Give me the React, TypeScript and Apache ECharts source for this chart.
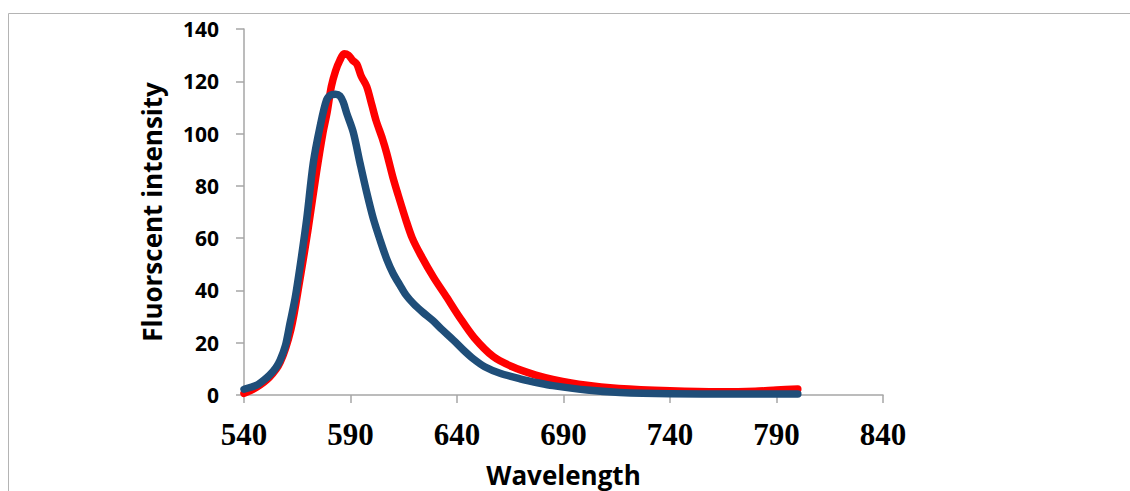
import React, { useEffect, useRef } from "react";
import * as echarts from "echarts";

const xTicks = [540, 590, 640, 690, 740, 790, 840];
const yTicks = [0, 20, 40, 60, 80, 100, 120, 140];

const redWave = [540, 546, 552, 557, 562, 566, 570, 574, 577, 579, 581, 583, 585, 587, 589, 591, 593, 595, 597.6, 600, 602, 605, 607, 610, 612, 616, 619, 623, 629, 635, 641, 648, 657, 666, 677, 685, 700, 716, 740, 763, 780, 790, 800];
const redVals = [0.6, 3.0, 6.8, 12.5, 25, 43, 63, 85, 100, 108, 118, 124, 128, 130.5, 130, 128, 126.5, 122, 118, 111, 105, 98, 92.5, 83, 77.5, 67, 60, 53.5, 45, 37.6, 30, 22, 14.7, 10.8, 7.6, 6.0, 3.8, 2.5, 1.6, 1.2, 1.4, 1.9, 2.3];

const blueWave = [540, 546, 549, 552, 555, 557, 559.5, 561.6, 564, 566.3, 569.4, 572.5, 575.7, 578.8, 581, 583, 585, 586.6, 588.2, 591.3, 594.5, 597.6, 600.7, 604, 607, 610, 613.2, 616, 619.5, 624, 628.9, 633, 638.3, 643, 647.7, 653, 660.2, 669.6, 679, 685, 701, 716.5, 740, 770, 800];
const blueVals = [2.2, 3.8, 5.5, 7.6, 10.5, 13.4, 19, 27.4, 37, 49, 67, 88.6, 102.6, 112.9, 114.8, 115, 114.4, 112, 107.8, 100.5, 88.6, 77.5, 67.5, 59, 52, 46.5, 42, 38.3, 35, 31.6, 28.3, 25, 21, 17.2, 13.8, 10.8, 8.3, 6.2, 4.5, 3.6, 1.9, 1.0, 0.5, 0.4, 0.4];

const pairs = (xs: number[], ys: number[]) => xs.map((x, i) => [x, ys[i]]);

export default function App() {
  const ref = useRef<HTMLDivElement>(null);
  useEffect(() => {
    if (!ref.current) return;
    const chart = echarts.init(ref.current, undefined, { renderer: "svg" });
    const axisColor = "#a6a6a6";
    chart.setOption({
      animation: false,
      backgroundColor: "#ffffff",
      graphic: [
        {
          type: "rect",
          shape: { x: 8.5, y: 13.5, width: 1200, height: 600 },
          style: { fill: "none", stroke: "#b4b4b4", lineWidth: 1 },
          silent: true,
        },
      ],
      grid: { left: 244, top: 29, right: 247, bottom: 96, containLabel: false, outerBoundsMode: "none" },
      xAxis: {
        type: "value",
        min: 540,
        max: 840,
        name: "Wavelength",
        nameLocation: "middle",
        nameGap: 67,
        nameTextStyle: { fontFamily: "Open Sans", fontWeight: "bold", fontSize: 26, color: "#000" },
        axisLine: { lineStyle: { color: axisColor, width: 1.5 } },
        axisTick: { show: true, length: 8, customValues: xTicks, lineStyle: { color: axisColor, width: 1.5 } },
        axisLabel: {
          customValues: xTicks,
          margin: 24,
          fontFamily: "Liberation Serif",
          fontWeight: "bold",
          fontSize: 31,
          color: "#000",
        },
        splitLine: { show: false },
      },
      yAxis: {
        type: "value",
        min: 0,
        max: 140,
        interval: 20,
        name: "Fluorscent intensity",
        nameLocation: "middle",
        nameGap: 79,
        nameTextStyle: { fontFamily: "Open Sans", fontWeight: "bold", fontSize: 26, color: "#000" },
        axisLine: { show: true, lineStyle: { color: axisColor, width: 1.5 } },
        axisTick: { show: true, length: 8, lineStyle: { color: axisColor, width: 1.5 } },
        axisLabel: {
          margin: 25,
          fontFamily: "Open Sans",
          fontWeight: "bold",
          fontSize: 21,
          color: "#000",
          formatter: (v: number) => (yTicks.includes(v) ? String(v) : ""),
        },
        splitLine: { show: false },
      },
      series: [
        {
          type: "line",
          name: "red",
          data: pairs(redWave, redVals),
          showSymbol: false,
          smooth: 0.3,
          lineStyle: { color: "#ff0000", width: 7.5, cap: "round", join: "round" },
          z: 2,
        },
        {
          type: "line",
          name: "blue",
          data: pairs(blueWave, blueVals),
          showSymbol: false,
          smooth: 0.3,
          lineStyle: { color: "#1f4e79", width: 7.5, cap: "round", join: "round" },
          z: 3,
        },
      ],
    });
    return () => chart.dispose();
  }, []);
  return (
    <div
      ref={ref}
      style={{ position: "fixed", left: 0, top: 0, width: 1130, height: 491 }}
    />
  );
}
